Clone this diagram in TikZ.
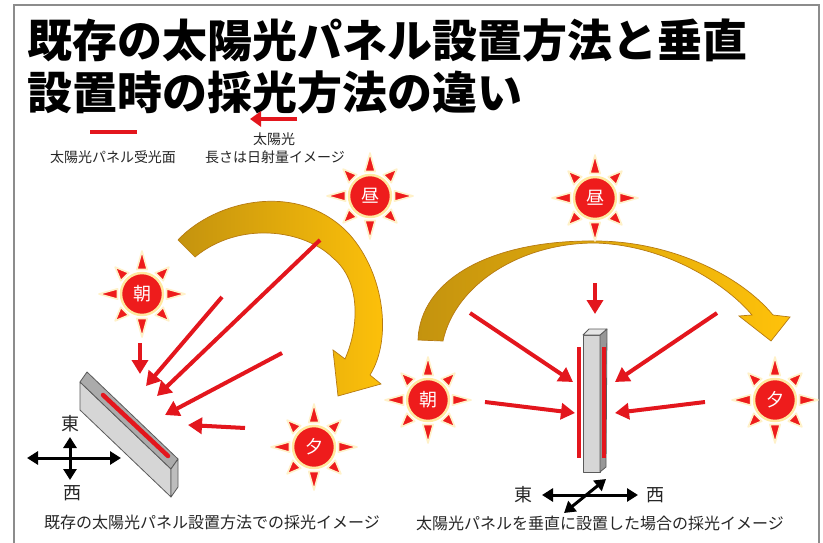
\documentclass[tikz,border=0pt]{standalone}
\usepackage{fontspec}
\setmainfont{Noto Sans CJK JP}
\usetikzlibrary{arrows.meta}

\definecolor{sunred}{HTML}{EE1C1C}
\definecolor{rayred}{HTML}{E3161D}
\definecolor{sunglow}{HTML}{FFE9A0}
\definecolor{spikeglow}{HTML}{FFF1C8}
\definecolor{golddark}{HTML}{C4930E}
\definecolor{goldlight}{HTML}{FFC20A}
\definecolor{goldedge}{HTML}{B67A12}
\definecolor{framegray}{HTML}{8C8C8C}
\definecolor{captiongray}{HTML}{262626}
\definecolor{paneltop}{HTML}{ABABAB}
\definecolor{panelfront}{HTML}{D6D6D6}
\definecolor{panelend}{HTML}{BDBDBD}
\definecolor{paneledge}{HTML}{5A5A5A}

\tikzset{
  ray/.style={draw=rayred, line width=4pt, -{Triangle[length=14pt,width=16pt]}},
  legendray/.style={draw=rayred, line width=4pt, -{Triangle[length=11pt,width=15pt]}},
  compass/.style={draw=black, line width=3pt,
    {Triangle[length=11pt,width=13pt]}-{Triangle[length=11pt,width=13pt]}},
  stripe/.style={draw=rayred, line width=4.5pt, line cap=round},
  vstripe/.style={draw=rayred, line width=4pt},
  boxface/.style={draw=paneledge, line width=0.8pt, line join=round},
  sundisc/.style={circle, fill=sunred, draw=sunglow, line width=2.5pt,
    minimum size=42pt, inner sep=0pt, text=white,
    font=\fontsize{18}{18}\selectfont},
  sunspike/.style={fill=sunred, draw=spikeglow, line width=1.6pt, line join=round},
  sweep/.style={draw=goldedge, line width=0.7pt, left color=golddark, right color=goldlight},
  caption/.style={text=captiongray, font=\fontsize{16}{16}\selectfont},
  legendtext/.style={text=captiongray, font=\fontsize{14}{14}\selectfont},
  compasstext/.style={text=captiongray, font=\fontsize{18}{18}\selectfont},
  pics/sunmark/.style={code={
    \foreach \a in {0,90,180,270}
      \path[sunspike] (\a:43) -- ({\a+12}:25) -- ({\a-12}:25) -- cycle;
    \foreach \a in {45,135,225,315}
      \path[sunspike] (\a:38) -- ({\a+13}:25) -- ({\a-13}:25) -- cycle;
    \node[sundisc] (-c) at (0,0) {#1};
  }}
}

\begin{document}
\begin{tikzpicture}[x=1pt,y=-1pt]
\useasboundingbox (0,0) rectangle (823,543);
\fill[white] (0,0) rectangle (823,543);

% outer frame, open at the bottom
\draw[framegray, line width=2pt] (14,543) -- (14,5) -- (819,5) -- (819,543);

% title
\node[anchor=west, font=\bfseries\fontsize{45}{45}\selectfont] (title1) at (24,40)
  {既存の太陽光パネル設置方法と垂直};
\node[anchor=west, font=\bfseries\fontsize{45}{45}\selectfont] (title2) at (24,92)
  {設置時の採光方法の違い};

% legend
\coordinate (lgBarA) at (90,132);
\coordinate (lgBarB) at (137,132);
\draw[rayred, line width=4.5pt] (lgBarA) -- (lgBarB);
\node[legendtext] (lgBar) at (113,157) {太陽光パネル受光面};
\coordinate (lgRayA) at (297,119);
\coordinate (lgRayB) at (250,119);
\draw[legendray] (lgRayA) -- (lgRayB);
\node[legendtext] (lgRay1) at (274,139) {太陽光};
\node[legendtext] (lgRay2) at (275,157) {長さは日射量イメージ};

% ---------- left: tilted panel ----------
% path of the sun across the sky
\path[sweep] (178,240) .. controls (215,200) and (300,180) .. (350,235)
  .. controls (385,275) and (392,340) .. (370,375)
  -- (381,384) -- (338,396) -- (333,350) -- (345,359)
  .. controls (360,325) and (360,280) .. (333,258)
  .. controls (305,230) and (240,220) .. (195,257) -- cycle;

\pic (sunLm) at (142,294) {sunmark={朝}};
\pic (sunLn) at (370,196) {sunmark={昼}};
\pic (sunLe) at (314,447) {sunmark={夕}};

% panel box
\filldraw[boxface, fill=panelfront] (80,382) -- (171,469) -- (171,497) -- (80,410) -- cycle;
\filldraw[boxface, fill=paneltop] (87,372) -- (178,459) -- (171,469) -- (80,382) -- cycle;
\filldraw[boxface, fill=panelend] (178,459) -- (178,487) -- (171,497) -- (171,469) -- cycle;
\coordinate (lsA) at (103,395);
\coordinate (lsB) at (168,456);
\draw[stripe] (lsA) -- (lsB);

% sunlight reaching the tilted panel
\coordinate (lr1a) at (140,343); \coordinate (lr1b) at (140,374);
\coordinate (lr2a) at (222,297); \coordinate (lr2b) at (146,386);
\coordinate (lr3a) at (320,240); \coordinate (lr3b) at (157,396);
\coordinate (lr4a) at (282,353); \coordinate (lr4b) at (165,415);
\coordinate (lr5a) at (245,428); \coordinate (lr5b) at (188,425);
\draw[ray] (lr1a) -- (lr1b);
\draw[ray] (lr2a) -- (lr2b);
\draw[ray] (lr3a) -- (lr3b);
\draw[ray] (lr4a) -- (lr4b);
\draw[ray] (lr5a) -- (lr5b);

% compass
\coordinate (lcW) at (27,458); \coordinate (lcE) at (121,458);
\coordinate (lcN) at (70,437); \coordinate (lcS) at (70,480);
\draw[compass] (lcW) -- (lcE);
\draw[compass] (lcN) -- (lcS);
\node[compasstext] (lcEast) at (70,424) {東};
\node[compasstext] (lcWest) at (72,493) {西};

\node[caption] (capL) at (212,522) {既存の太陽光パネル設置方法での採光イメージ};

% ---------- right: vertical panel ----------
\path[sweep] (418,340) .. controls (420,280) and (490,240) .. (595,241)
  .. controls (670,241) and (740,275) .. (773,315)
  -- (790,317) -- (771,341) -- (739,316) -- (752,315)
  .. controls (725,283) and (665,245) .. (595,243)
  .. controls (520,243) and (455,285) .. (443,341) -- cycle;

\pic (sunRn) at (595,198) {sunmark={昼}};
\pic (sunRm) at (428,400) {sunmark={朝}};
\pic (sunRe) at (775,400) {sunmark={夕}};

% panel box
\filldraw[boxface, fill=panelfront] (583,335) -- (600,335) -- (600,472) -- (583,472) -- cycle;
\filldraw[boxface, fill=panelend!80!black] (600,335) -- (607,329) -- (606,467) -- (600,472) -- cycle;
\filldraw[boxface, fill=panelfront!60!white] (583,335) -- (589,329) -- (607,329) -- (600,335) -- cycle;
\coordinate (rsLa) at (579,347); \coordinate (rsLb) at (579,458);
\coordinate (rsRa) at (604,347); \coordinate (rsRb) at (604,458);
\draw[vstripe] (rsLa) -- (rsLb);
\draw[vstripe] (rsRa) -- (rsRb);

% sunlight reaching both faces
\coordinate (rr1a) at (595,283); \coordinate (rr1b) at (595,314);
\coordinate (rr2a) at (470,313); \coordinate (rr2b) at (573,382);
\coordinate (rr3a) at (717,313); \coordinate (rr3b) at (615,382);
\coordinate (rr4a) at (485,402); \coordinate (rr4b) at (575,413);
\coordinate (rr5a) at (705,402); \coordinate (rr5b) at (615,413);
\draw[ray] (rr1a) -- (rr1b);
\draw[ray] (rr2a) -- (rr2b);
\draw[ray] (rr3a) -- (rr3b);
\draw[ray] (rr4a) -- (rr4b);
\draw[ray] (rr5a) -- (rr5b);

% compass
\coordinate (rcE) at (542,495); \coordinate (rcW) at (638,495);
\coordinate (rcS) at (564,513); \coordinate (rcN) at (606,479);
\draw[compass] (rcE) -- (rcW);
\draw[compass] (rcS) -- (rcN);
\node[compasstext] (rcEast) at (523,495) {東};
\node[compasstext] (rcWest) at (655,495) {西};

\node[caption] (capR) at (600,523) {太陽光パネルを垂直に設置した場合の採光イメージ};
\end{tikzpicture}
\end{document}
